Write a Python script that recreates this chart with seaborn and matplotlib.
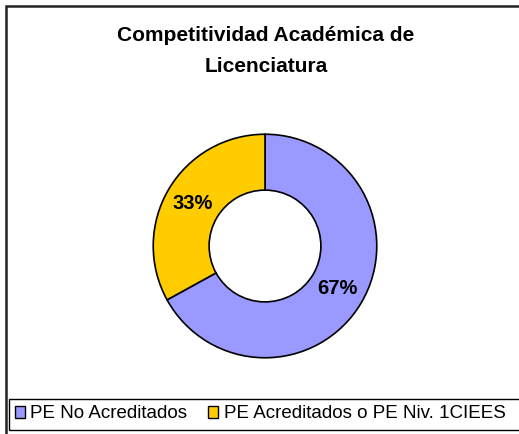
import matplotlib
matplotlib.use("Agg")

import matplotlib.pyplot as plt
import seaborn as sns
from matplotlib.patches import Patch, Rectangle

# Data
labels = ["PE No Acreditados", "PE Acreditados o PE Niv. 1CIEES"]
values = [67, 33]
colors = ["#9999FF", "#FFCC00"]
title = "Competitividad Académica de\nLicenciatura"

sns.set_theme(style="white")
plt.rcParams["font.family"] = ["Liberation Sans", "DejaVu Sans"]
plt.rcParams["text.color"] = "black"

W, H = 519, 434
fig = plt.figure(figsize=(W / 100, H / 100), dpi=100)
fig.patch.set_facecolor("white")

# donut placement (pixels)
cx, cy, r = 265, 246, 114
ax = fig.add_axes([(cx - r) / W, (H - cy - r) / H, 2 * r / W, 2 * r / H])
wedges, _, autotexts = ax.pie(
    values,
    colors=colors,
    startangle=90,
    counterclock=False,
    autopct="%1.0f%%",
    pctdistance=0.75,
    wedgeprops=dict(width=0.5, edgecolor="black", linewidth=1.2),
    textprops=dict(fontsize=14.5, fontweight="bold", color="black"),
)
ax.set_xlim(-1.02, 1.02)
ax.set_ylim(-1.02, 1.02)
ax.set_aspect("equal")
ax.axis("off")

fig.text(266 / W, 1 - 51 / H, title, ha="center", va="center", color="black",
         fontsize=15, fontweight="bold", linespacing=1.8)

# chart border and legend box
fig.add_artist(Rectangle((6 / W, -0.1), 2, 1 - 6 / H + 0.1, transform=fig.transFigure,
                         fill=False, lw=1.8, ec="#222222", clip_on=False))
fig.add_artist(Rectangle((9 / W, 4 / H), 1, 31 / H, transform=fig.transFigure,
                         fill=False, lw=1.0, ec="black", clip_on=False))

handles = [Patch(facecolor=c, edgecolor="black", linewidth=1.0) for c in colors]
fig.legend(handles, labels, loc="center left", bbox_to_anchor=(7 / W, 1 - 414 / H),
           ncol=2, frameon=False, fontsize=13.5, handlelength=0.55, handleheight=0.55,
           handletextpad=0.3, columnspacing=1.1, borderaxespad=0, labelcolor="black")

fig.savefig("out.png", dpi=100)
